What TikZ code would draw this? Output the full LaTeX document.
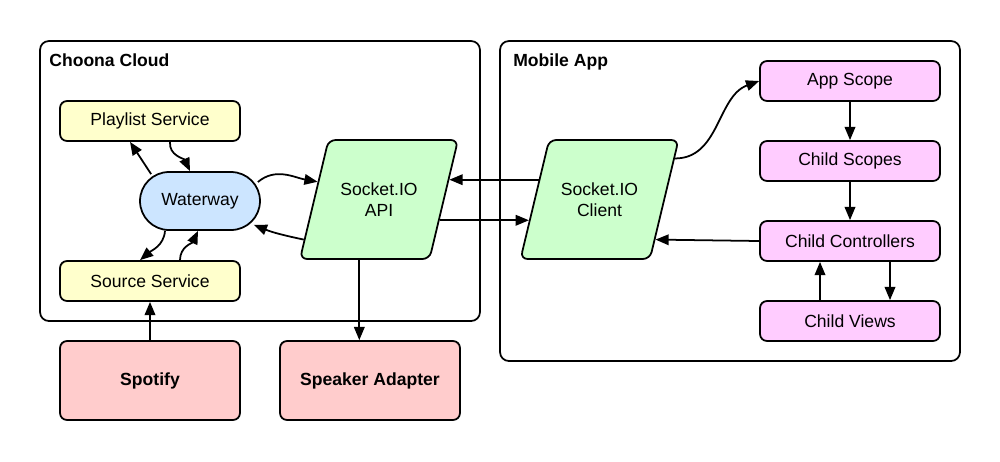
\documentclass[tikz,border=0pt]{standalone}
\usepackage{fontspec}
\setmainfont{Liberation Sans}
\usetikzlibrary{shapes,arrows.meta,positioning,calc}

\definecolor{svcyellow}{HTML}{FFFFCC}
\definecolor{waterblue}{HTML}{CCE5FF}
\definecolor{sockgreen}{HTML}{CCFFCC}
\definecolor{scopepink}{HTML}{FFCCFF}
\definecolor{extred}{HTML}{FFCCCC}

\tikzset{
  box/.style={draw, rounded corners=4pt, line width=1pt, minimum width=3.6cm, minimum height=0.8cm, font=\fontsize{10}{12}\selectfont},
  svc/.style={box, fill=svcyellow},
  scopebox/.style={box, fill=scopepink},
  extbox/.style={box, fill=extred, minimum height=1.58cm, font=\fontsize{10}{12}\selectfont\bfseries},
  sock/.style={draw, fill=sockgreen, line width=1pt, rounded corners=4pt, trapezium, trapezium left angle=58, trapezium right angle=122, trapezium stretches body, minimum width=3.16cm, minimum height=2.38cm, align=center, font=\fontsize{10}{12}\selectfont},
  frame/.style={draw, rounded corners=5pt, line width=1pt},
  framelbl/.style={inner sep=0pt, anchor=base west, font=\fontsize{10}{12}\selectfont\bfseries},
  link/.style={-{Triangle[length=7.5pt,width=6pt]}, line width=1pt},
}

\begin{document}
\begin{tikzpicture}[x=0.02cm,y=-0.02cm]
\useasboundingbox (0,0) rectangle (1000,461);
%Frames
\node[frame, minimum width=8.8cm, minimum height=5.6cm] (cloud) at (260,181) {};
\node[framelbl] (cloudlbl) at (49,66) {Choona Cloud};
\node[frame, minimum width=9.2cm, minimum height=6.4cm] (mobile) at (730,201) {};
\node[framelbl] (mobilelbl) at (513,66) {Mobile App};

%Cloud services
\node[svc] (playlist) at (150,121) {Playlist Service};
\node[svc] (source) at (150,281) {Source Service};
\node[draw, fill=waterblue, line width=1pt, rounded corners=0.58cm, minimum width=2.4cm, minimum height=1.16cm, font=\fontsize{10}{12}\selectfont] (waterway) at (200,201) {Waterway};
\node[sock] (api) at (379,199.5) {Socket.IO\\API};

%External
\node[extbox] (spotify) at (150,380.5) {Spotify};
\node[extbox] (speaker) at (370,380.5) {Speaker Adapter};

%Mobile app
\node[sock] (client) at (599.5,199.5) {Socket.IO\\Client};
\node[scopebox] (appscope) at (850,81) {App Scope};
\node[scopebox] (childscopes) at (850,161) {Child Scopes};
\node[scopebox] (controllers) at (850,241) {Child Controllers};
\node[scopebox] (views) at (850,321) {Child Views};

%Points on the slanted sides
\coordinate (apiL1) at ($(api.bottom left corner)!0.647!(api.top left corner)$);
\coordinate (apiL2) at ($(api.bottom left corner)!0.168!(api.top left corner)$);
\coordinate (apiR1) at ($(api.bottom right corner)!0.664!(api.top right corner)$);
\coordinate (apiR2) at ($(api.bottom right corner)!0.328!(api.top right corner)$);
\coordinate (apiB) at ($(api.bottom left corner)!0.46!(api.bottom right corner)$);
\coordinate (cliL1) at ($(client.bottom left corner)!0.664!(client.top left corner)$);
\coordinate (cliL2) at ($(client.bottom left corner)!0.328!(client.top left corner)$);
\coordinate (cliR1) at ($(client.bottom right corner)!0.84!(client.top right corner)$);
\coordinate (cliR2) at ($(client.bottom right corner)!0.168!(client.top right corner)$);

%Waterway links
\draw[link] ([xshift=0.24cm,yshift=-0.06cm]waterway.north west) -- ([xshift=-0.4cm]playlist.south);
\draw[link] ([xshift=0.4cm]playlist.south) to[out=-95,in=115] ([xshift=-0.2cm]waterway.north);
\draw[link] ([xshift=-0.7cm]waterway.south) to[out=-95,in=40] ([xshift=-0.2cm]source.north);
\draw[link] ([xshift=0.6cm]source.north) to[out=90,in=-115] ([xshift=-0.04cm]waterway.south);
\draw[link] ([xshift=-0.06cm,yshift=0.38cm]waterway.east) to[out=40,in=170] (apiL1);
\draw[link] (apiL2) to[out=168,in=-22] ([xshift=-0.14cm,yshift=0.12cm]waterway.south east);

%Socket links
\draw[link] (cliL1) -- (apiR1);
\draw[link] (apiR2) -- (cliL2);
\draw[link] (cliR1) to[out=0,in=200] (appscope.west);
\draw[link] (controllers.west) -- (cliR2);

%Scope links
\draw[link] (appscope) -- (childscopes);
\draw[link] (childscopes) -- (controllers);
\draw[link] ([xshift=-0.6cm]views.north) -- ([xshift=-0.6cm]controllers.south);
\draw[link] ([xshift=0.8cm]controllers.south) -- ([xshift=0.8cm]views.north);

%External links
\draw[link] (spotify) -- (source);
\draw[link] (apiB) -- (apiB |- speaker.north);
\end{tikzpicture}
\end{document}
